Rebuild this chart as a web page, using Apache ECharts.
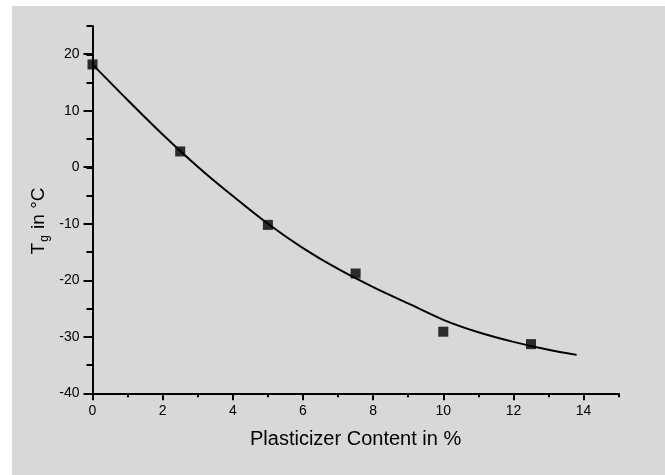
<!DOCTYPE html>
<html>
<head>
<meta charset="utf-8">
<script src="https://cdn.jsdelivr.net/npm/echarts@6/dist/echarts.min.js"></script>
<style>
  html, body { margin: 0; padding: 0; background: #ffffff; }
  #c { position: absolute; left: 12px; top: 6px; width: 653px; height: 469px; background: #d8d8d8; }
</style>
</head>
<body>
<div id="c"></div>
<script>
// Measured data (Plasticizer content in %, Tg in °C)
const plasticizer = [0, 2.5, 5, 7.5, 10, 12.5];
const tgMeasured = [18.2, 2.8, -10.2, -18.8, -29.1, -31.3];
// Fitted curve
const fitX = [0, 1, 2, 3, 4, 5, 6, 7, 8, 9, 10, 11, 12, 13, 13.8];
const fitY = [18.2, 11.9, 5.8, 0.1, -5.1, -10.0, -14.3, -18.0, -21.2, -24.1, -27.0, -29.2, -30.9, -32.3, -33.2];
const xTickLabels = ['0', '2', '4', '6', '8', '10', '12', '14'];
const yTickLabels = ['-40', '-30', '-20', '-10', '0', '10', '20'];
const xTitle = 'Plasticizer Content in %';

const chart = echarts.init(document.getElementById('c'), null, { renderer: 'canvas' });
const F = 'Liberation Sans, Arial, Helvetica, sans-serif';
const axisColor = '#000';

const pointData = plasticizer.map((x, i) => [x, tgMeasured[i]]);
const fitData = fitX.map((x, i) => [x, fitY[i]]);

chart.setOption({
  animation: false,
  grid: [
    { left: 80.5, right: 46.3, top: 20, bottom: 81.7 },
    { left: 80.5, right: 81.3, top: 48.2, bottom: 81.7 }
  ],
  xAxis: [
    {
      type: 'value', gridIndex: 0, min: 0, max: 15, interval: 1,
      splitLine: { show: false },
      axisLine: { onZero: false, lineStyle: { color: axisColor, width: 2 } },
      axisTick: { length: 4, lineStyle: { color: axisColor, width: 2 } },
      axisLabel: {
        margin: 11, color: '#000', fontSize: 14, fontFamily: F,
        formatter: v => { const s = String(v); return xTickLabels.indexOf(s) >= 0 ? s : ''; }
      },
      name: xTitle, nameLocation: 'middle', nameGap: 36,
      nameTextStyle: { color: '#000', fontSize: 20, fontFamily: F }
    },
    {
      type: 'value', gridIndex: 1, min: 0, max: 14, interval: 2,
      splitLine: { show: false },
      axisLine: { show: false, onZero: false },
      axisTick: { length: 7, lineStyle: { color: axisColor, width: 2 } },
      axisLabel: { show: false }
    }
  ],
  yAxis: [
    {
      type: 'value', gridIndex: 0, min: -40, max: 25, interval: 5,
      splitLine: { show: false },
      axisLine: { onZero: false, lineStyle: { color: axisColor, width: 2 } },
      axisTick: { length: 6, lineStyle: { color: axisColor, width: 2 } },
      axisLabel: {
        margin: 13, color: '#000', fontSize: 14, fontFamily: F,
        formatter: v => { const s = String(v); return yTickLabels.indexOf(s) >= 0 ? s : ''; }
      }
    },
    {
      type: 'value', gridIndex: 1, min: -40, max: 20, interval: 10,
      splitLine: { show: false },
      axisLine: { show: false, onZero: false },
      axisTick: { length: 9, lineStyle: { color: axisColor, width: 2 } },
      axisLabel: { show: false }
    }
  ],
  graphic: [
    {
      type: 'text', x: 27, y: 215, rotation: Math.PI / 2,
      style: {
        text: '{a|T}{s|g}{a| in °C}',
        align: 'center', verticalAlign: 'middle', fill: '#000',
        rich: {
          a: { fontSize: 19, fontFamily: F, lineHeight: 24, verticalAlign: 'middle', fill: '#000' },
          s: { fontSize: 12, fontFamily: F, lineHeight: 12, verticalAlign: 'bottom', fill: '#000', padding: [0, 1, 0, 1] }
        }
      }
    }
  ],
  series: [
    {
      type: 'line', xAxisIndex: 0, yAxisIndex: 0, data: fitData,
      smooth: 0.3, showSymbol: false, symbol: 'none',
      lineStyle: { color: '#000', width: 2 }, z: 2
    },
    {
      type: 'scatter', xAxisIndex: 0, yAxisIndex: 0, data: pointData,
      symbol: 'rect', symbolSize: 10, clip: false,
      itemStyle: { color: '#000' }, z: 3
    }
  ]
});
</script>
</body>
</html>
